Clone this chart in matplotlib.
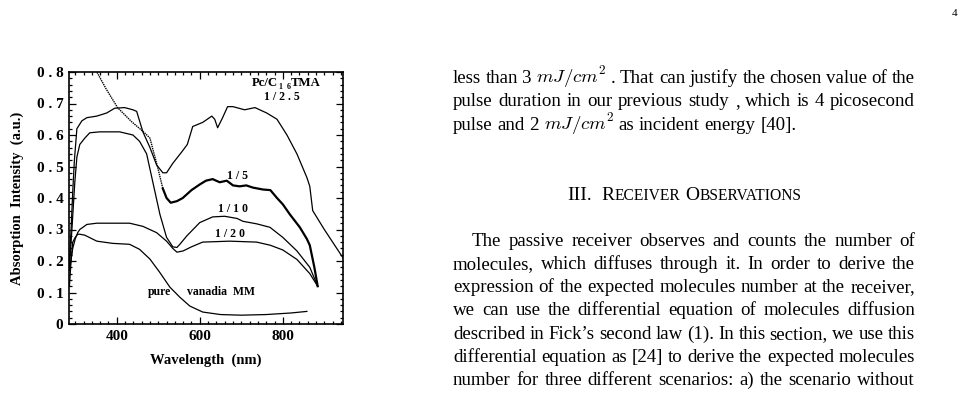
import matplotlib
matplotlib.use('Agg')
import matplotlib.pyplot as plt
from matplotlib.ticker import MultipleLocator, FixedLocator
from matplotlib.transforms import IdentityTransform

plt.rcParams['mathtext.fontset'] = 'cm'

W, H = 967, 397
SERIF = 'Liberation Serif'

# absorption spectra (wavelength in nm, absorption in a.u.)
wl_25 = [286, 290, 294, 298, 304, 316, 328, 352, 376, 395, 419, 439, 448, 463, 480, 496, 511, 520, 535, 557,
         570, 583, 607, 629, 636, 643, 655, 667, 680, 708, 733, 761, 786, 810, 834, 858, 865, 872, 900, 945]
ab_25 = [0.20, 0.30, 0.42, 0.52, 0.62, 0.645, 0.655, 0.66, 0.67, 0.685, 0.687, 0.68, 0.675, 0.61, 0.56, 0.505,
         0.48, 0.48, 0.51, 0.547, 0.57, 0.627, 0.64, 0.66, 0.65, 0.623, 0.655, 0.69, 0.69, 0.68, 0.687, 0.67,
         0.65, 0.60, 0.54, 0.465, 0.437, 0.36, 0.30, 0.21]

wl_5 = [340, 352, 375, 402, 436, 467, 480, 490, 500, 511, 520, 530, 545, 559, 580, 600, 615, 631, 648, 665,
        680, 696, 712, 728, 752, 770, 786, 800, 817, 841, 858, 865, 876, 884]
ab_5 = [0.83, 0.80, 0.745, 0.687, 0.642, 0.607, 0.59, 0.54, 0.49, 0.43, 0.40, 0.385, 0.39, 0.40, 0.425, 0.443,
        0.455, 0.46, 0.45, 0.455, 0.44, 0.437, 0.44, 0.433, 0.427, 0.425, 0.40, 0.38, 0.348, 0.307, 0.27, 0.25,
        0.18, 0.12]

wl_10 = [286, 292, 299, 304, 311, 323, 335, 359, 407, 439, 455, 472, 487, 504, 520, 535, 545, 552, 569, 600,
         631, 660, 690, 704, 737, 769, 800, 834, 865, 884]
ab_10 = [0.18, 0.30, 0.45, 0.53, 0.57, 0.59, 0.607, 0.61, 0.61, 0.60, 0.58, 0.54, 0.45, 0.348, 0.275, 0.245,
         0.243, 0.253, 0.28, 0.322, 0.34, 0.342, 0.335, 0.326, 0.318, 0.307, 0.275, 0.232, 0.18, 0.12]

wl_20 = [286, 294, 300, 306, 311, 328, 352, 431, 463, 496, 520, 535, 545, 560, 580, 607, 672, 737, 770, 800,
         834, 865, 884]
ab_20 = [0.17, 0.24, 0.27, 0.29, 0.30, 0.316, 0.32, 0.32, 0.31, 0.29, 0.263, 0.24, 0.228, 0.232, 0.245, 0.26,
         0.263, 0.26, 0.25, 0.235, 0.205, 0.16, 0.12]

wl_pure = [286, 290, 294, 300, 306, 311, 323, 352, 390, 431, 455, 480, 503, 528, 552, 576, 607, 650, 700, 760,
           820, 858]
ab_pure = [0.12, 0.20, 0.26, 0.275, 0.285, 0.285, 0.282, 0.263, 0.256, 0.253, 0.237, 0.206, 0.165, 0.117,
           0.085, 0.057, 0.038, 0.03, 0.028, 0.03, 0.035, 0.04]

y_ticks = [0, 0.1, 0.2, 0.3, 0.4, 0.5, 0.6, 0.7, 0.8]
y_labels = ['0', '0 . 1', '0 . 2', '0 . 3', '0 . 4', '0 . 5', '0 . 6', '0 . 7', '0 . 8']
x_ticks = [400, 600, 800]
x_labels = ['400', '600', '800']

fig = plt.figure(figsize=(W / 100, H / 100), dpi=100)
ax = fig.add_axes([69 / W, 1 - 324 / H, (343 - 69) / W, (324 - 72) / H])

lw = 0.9
ax.plot(wl_25, ab_25, color='black', lw=lw)
ax.plot(wl_5[:10], ab_5[:10], color='black', lw=1.0, ls=(0, (1, 0.6)))
ax.plot(wl_5[9:], ab_5[9:], color='black', lw=1.6)
ax.plot(wl_10, ab_10, color='black', lw=lw)
ax.plot(wl_20, ab_20, color='black', lw=lw)
ax.plot(wl_pure, ab_pure, color='black', lw=lw)

ax.set_xlim(285, 945)
ax.set_ylim(0, 0.8)
ax.xaxis.set_major_locator(FixedLocator(x_ticks))
ax.xaxis.set_minor_locator(MultipleLocator(20))
ax.yaxis.set_major_locator(FixedLocator(y_ticks))
ax.yaxis.set_minor_locator(MultipleLocator(0.02))
ax.set_xticklabels(x_labels)
ax.set_yticklabels(y_labels)
ax.tick_params(which='both', direction='in', top=True, right=True, width=0.9)
ax.tick_params(which='major', length=5, pad=4)
ax.tick_params(which='minor', length=2.5)
for lab in ax.get_xticklabels() + ax.get_yticklabels():
    lab.set_family(SERIF)
    lab.set_weight('bold')
    lab.set_fontsize(11)
for sp in ax.spines.values():
    sp.set_linewidth(1.2)

ax.set_xlabel('Wavelength  (nm)', family=SERIF, weight='bold', fontsize=10.5, labelpad=8)
ax.set_ylabel('Absorption  Intensity  (a.u.)', family=SERIF, weight='bold', fontsize=10.5, labelpad=9)

lab_kw = dict(family=SERIF, weight='bold', fontsize=8.5, color='black')
ax.text(798, 0.72, '1 / 2 . 5', ha='center', va='center', **lab_kw)
ax.text(692, 0.47, '1 / 5', ha='center', va='center', **lab_kw)
ax.text(680, 0.364, '1 / 1 0', ha='center', va='center', **lab_kw)
ax.text(672, 0.285, '1 / 2 0', ha='center', va='center', **lab_kw)
ax.text(504, 0.101, 'pure', ha='center', va='center', **lab_kw)
ax.text(569, 0.101, 'vanadia  MM', ha='left', va='center', **lab_kw)

rend = fig.canvas.get_renderer()
ident = IdentityTransform()

# Pc/C16TMA with the spaced subscript
big = dict(lab_kw, fontsize=9.2)
px, py = ax.transData.transform((725, 0.766))
t1 = fig.text(px, py, 'Pc/C', transform=ident, va='center', **big)
w1 = t1.get_window_extent(rend).width
t2 = fig.text(px + w1 + 1, py - 4, '1  6', transform=ident, va='center',
              family=SERIF, weight='bold', fontsize=5.8)
w2 = t2.get_window_extent(rend).width
fig.text(px + w1 + w2 + 1, py, 'TMA', transform=ident, va='center', **big)


# body text of the page, justified word by word
def text_line(words, x0, x1, y, size, justify=True):
    arts = [fig.text(0, H - y, w, fontsize=size, family=SERIF, transform=ident, va='baseline') for w in words]
    widths = [a.get_window_extent(rend).width for a in arts]
    if justify and len(words) > 1:
        gap = (x1 - x0 - sum(widths)) / (len(words) - 1)
    else:
        gap = 0.25 * size * 100 / 72
    x = x0
    for a, w in zip(arts, widths):
        a.set_position((x, H - y))
        x += w + gap


BODY = 13.6
X0, X1 = 453, 915
para1 = [
    'less than 3 $mJ/cm^2$ . That can justify the chosen value of the',
    'pulse duration in our previous study , which is 4 picosecond',
    'pulse and 2 $mJ/cm^2$ as incident energy [40].',
]
para2 = [
    'The passive receiver observes and counts the number of',
    'molecules, which diffuses through it. In order to derive the',
    'expression of the expected molecules number at the receiver,',
    'we can use the differential equation of molecules diffusion',
    "described in Fick\u2019s second law (1). In this section, we use this",
    'differential equation as [24] to derive the expected molecules',
    'number for three different scenarios: a) the scenario without',
]
for i, line in enumerate(para1):
    text_line(line.split(' '), X0, X1, 83 + i * 23.4, BODY, justify=(i < len(para1) - 1))
for i, line in enumerate(para2):
    x0 = X0 + 19 if i == 0 else X0
    text_line(line.split(' '), x0, X1, 245.5 + i * 23.3, BODY)

# section heading in small caps
pieces = [('III.', 14, 10), ('R', 14, 0), ('ECEIVER', 11.2, 5), ('O', 14, 0), ('BSERVATIONS', 11.2, 0)]
arts = []
tot = 0
for s, fs, g in pieces:
    a = fig.text(0, H - 200, s, fontsize=fs, family=SERIF, transform=ident, va='baseline')
    w = a.get_window_extent(rend).width
    arts.append((a, w, g))
    tot += w + g
x = (X0 + X1) / 2 - tot / 2
for a, w, g in arts:
    a.set_position((x, H - 200))
    x += w + g

fig.text(955, H - 16, '4', fontsize=8, family=SERIF, transform=ident, va='baseline', ha='center')

fig.savefig('out.png', dpi=100)
